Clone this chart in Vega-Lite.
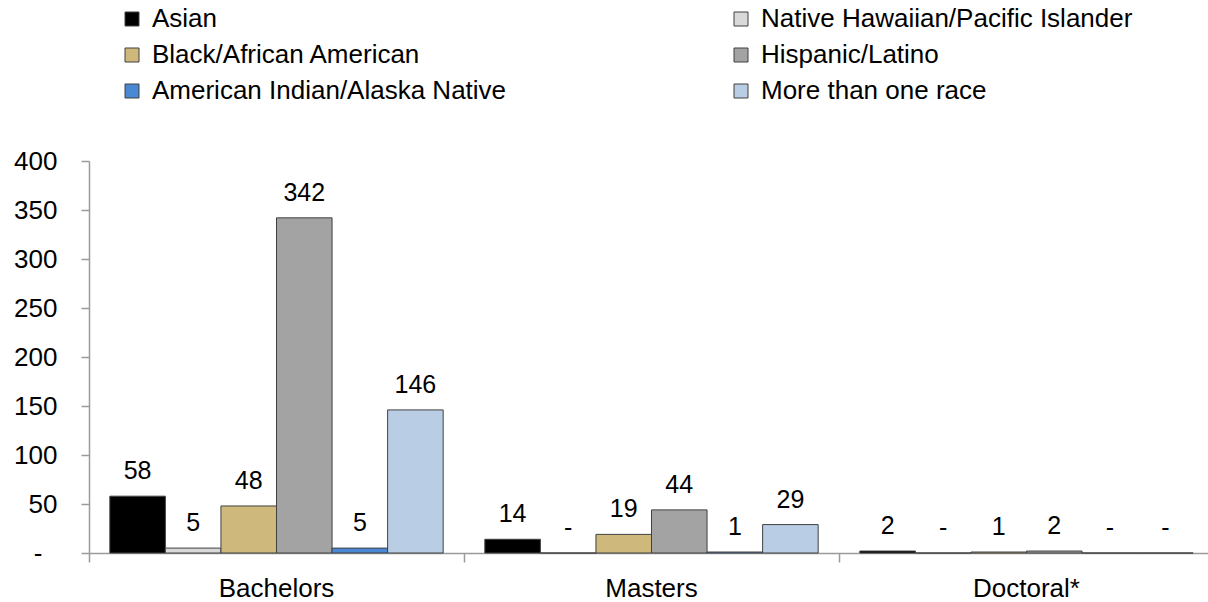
{
  "$schema": "https://vega.github.io/schema/vega-lite/v6.json",
  "width": 1119,
  "height": 392,
  "autosize": {"type": "none"},
  "padding": {"left": 89, "top": 161, "right": 0, "bottom": 49},
  "background": "white",
  "config": {
    "view": {"stroke": null},
    "font": "Liberation Sans",
    "axis": {"labelFont": "Liberation Sans", "labelFontSize": 26, "labelColor": "#000000", "domainColor": "#9a9a9a", "tickColor": "#9a9a9a", "domainWidth": 1.5, "tickWidth": 1.5, "grid": false, "title": null},
    "legend": {"labelFont": "Liberation Sans", "labelFontSize": 26, "labelColor": "#000000"}
  },
  "data": {
    "values": [
      {"degree": "Bachelors", "race": "Asian", "value": 58, "label": "58"},
      {"degree": "Bachelors", "race": "Native Hawaiian/Pacific Islander", "value": 5, "label": "5"},
      {"degree": "Bachelors", "race": "Black/African American", "value": 48, "label": "48"},
      {"degree": "Bachelors", "race": "Hispanic/Latino", "value": 342, "label": "342"},
      {"degree": "Bachelors", "race": "American Indian/Alaska Native", "value": 5, "label": "5"},
      {"degree": "Bachelors", "race": "More than one race", "value": 146, "label": "146"},
      {"degree": "Masters", "race": "Asian", "value": 14, "label": "14"},
      {"degree": "Masters", "race": "Native Hawaiian/Pacific Islander", "value": 0, "label": "-"},
      {"degree": "Masters", "race": "Black/African American", "value": 19, "label": "19"},
      {"degree": "Masters", "race": "Hispanic/Latino", "value": 44, "label": "44"},
      {"degree": "Masters", "race": "American Indian/Alaska Native", "value": 1, "label": "1"},
      {"degree": "Masters", "race": "More than one race", "value": 29, "label": "29"},
      {"degree": "Doctoral*", "race": "Asian", "value": 2, "label": "2"},
      {"degree": "Doctoral*", "race": "Native Hawaiian/Pacific Islander", "value": 0, "label": "-"},
      {"degree": "Doctoral*", "race": "Black/African American", "value": 1, "label": "1"},
      {"degree": "Doctoral*", "race": "Hispanic/Latino", "value": 2, "label": "2"},
      {"degree": "Doctoral*", "race": "American Indian/Alaska Native", "value": 0, "label": "-"},
      {"degree": "Doctoral*", "race": "More than one race", "value": 0, "label": "-"}
    ]
  },
  "encoding": {
    "x": {
      "field": "degree", "type": "nominal", "sort": ["Bachelors", "Masters", "Doctoral*"],
      "scale": {"paddingInner": 0, "paddingOuter": 0, "range": [0, 1125]},
      "axis": {"labelAngle": 0, "bandPosition": 0, "tickSize": 9, "labelPadding": 13}
    },
    "xOffset": {
      "field": "race", "type": "nominal",
      "sort": ["Asian", "Native Hawaiian/Pacific Islander", "Black/African American", "Hispanic/Latino", "American Indian/Alaska Native", "More than one race"],
      "scale": {"paddingInner": 0, "paddingOuter": 0.375}
    },
    "y": {
      "field": "value", "type": "quantitative",
      "scale": {"domain": [0, 400], "nice": false},
      "axis": {
        "values": [0, 50, 100, 150, 200, 250, 300, 350, 400], "tickSize": 8,
        "labelPadding": {"condition": {"test": "datum.value == 0", "value": 39}, "value": 24},
        "labelExpr": "datum.value == 0 ? '-' : datum.label"
      }
    }
  },
  "layer": [
    {
      "mark": {"type": "bar", "stroke": "#404040", "strokeWidth": 1},
      "encoding": {
        "color": {
          "field": "race", "type": "nominal",
          "sort": ["Asian", "Native Hawaiian/Pacific Islander", "Black/African American", "Hispanic/Latino", "American Indian/Alaska Native", "More than one race"],
          "scale": {
            "domain": ["Asian", "Native Hawaiian/Pacific Islander", "Black/African American", "Hispanic/Latino", "American Indian/Alaska Native", "More than one race"],
            "range": ["#000000", "#d9d9d9", "#cfb87c", "#a3a3a3", "#4a88d4", "#b9cde5"]
          },
          "legend": {
            "title": null, "orient": "none", "legendX": 30, "legendY": -155, "columns": 2, "direction": "horizontal",
            "columnPadding": 221, "rowPadding": 10, "padding": 0,
            "symbolType": "square", "symbolSize": 196, "symbolStrokeColor": "#404040", "symbolStrokeWidth": 1,
            "labelOffset": 7, "symbolOpacity": 1, "labelLimit": 600
          }
        }
      }
    },
    {
      "mark": {"type": "text", "fontSize": 25, "dy": -25, "baseline": "middle", "color": "#000000"},
      "encoding": {"text": {"field": "label"}}
    }
  ]
}
